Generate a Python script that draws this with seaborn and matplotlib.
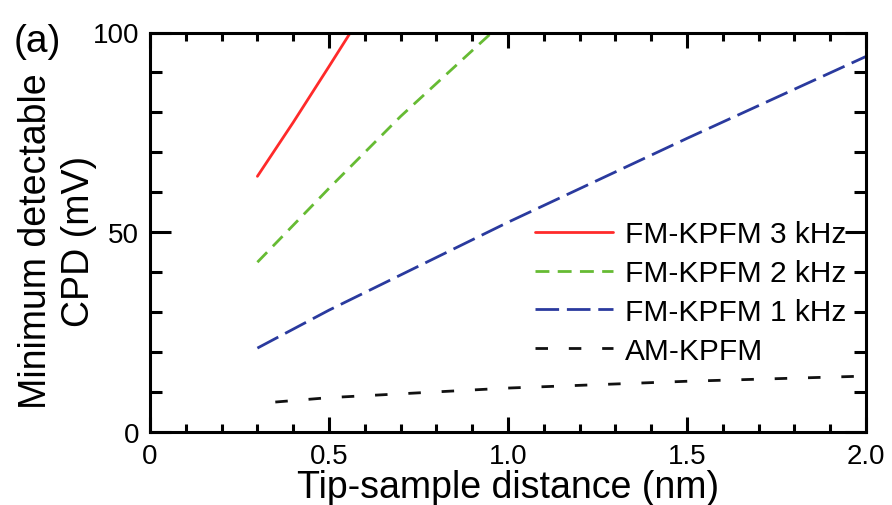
import numpy as np
import pandas as pd
import seaborn as sns
import matplotlib
matplotlib.use("Agg")
import matplotlib.pyplot as plt
from matplotlib.ticker import MultipleLocator

# Data
fm3_x = [0.30, 0.40, 0.50, 0.56]
fm3_y = [64.0, 77.5, 91.5, 100.0]
fm2_x = [0.30, 0.50, 0.70, 0.955]
fm2_y = [42.5, 61.0, 79.0, 100.0]
fm1_x = [0.30, 0.50, 1.00, 1.50, 2.00]
fm1_y = [21.0, 30.5, 52.5, 73.5, 94.0]
am_x = [0.35, 0.50, 1.00, 1.50, 2.00]
am_y = [7.5, 8.6, 11.0, 12.7, 14.0]

labels = ["FM-KPFM 3 kHz", "FM-KPFM 2 kHz", "FM-KPFM 1 kHz", "AM-KPFM"]
colors = ["#ff2a2a", "#66bb33", "#2a3a9e", "#111111"]
xtick_labels = ["0", "0.5", "1.0", "1.5", "2.0"]

sns.set_theme(style="white")
plt.rcParams['font.family'] = ['Liberation Sans', 'DejaVu Sans']
plt.rcParams['text.color'] = 'black'
plt.rcParams['axes.labelcolor'] = 'black'
plt.rcParams['xtick.color'] = 'black'
plt.rcParams['ytick.color'] = 'black'

fig = plt.figure(figsize=(8.92, 5.06), dpi=100)
ax = fig.add_axes([150/892, 1-433/506, 716/892, 399.5/506])

lw = 2.0
series = [(fm3_x, fm3_y), (fm2_x, fm2_y), (fm1_x, fm1_y), (am_x, am_y)]
dash_styles = [None, (0, (5.0, 3.0)), (0, (8.5, 2.8)), (0, (4.5, 7.5))]
for (xs, ys), lab, col, ds in zip(series, labels, colors, dash_styles):
    df = pd.DataFrame({"x": xs, "y": ys})
    kw = {} if ds is None else {"linestyle": ds}
    sns.lineplot(data=df, x="x", y="y", ax=ax, color=col, lw=lw, label=lab, **kw)

ax.set_xlim(0, 2.0)
ax.set_ylim(0, 100)
ax.xaxis.set_major_locator(MultipleLocator(0.5))
ax.xaxis.set_minor_locator(MultipleLocator(0.1))
ax.yaxis.set_major_locator(MultipleLocator(50))
ax.yaxis.set_minor_locator(MultipleLocator(10))
ax.set_xticks([0, 0.5, 1.0, 1.5, 2.0])
ax.set_xticklabels(xtick_labels)
ax.tick_params(which="both", direction="in", top=True, right=True,
               bottom=True, left=True, width=2.2, colors="black",
               labelcolor="black", labelsize=20, pad=8)
ax.tick_params(axis="x", which="major", length=11)
ax.tick_params(axis="x", which="minor", length=6)
ax.tick_params(axis="y", which="major", length=15)
ax.tick_params(axis="y", which="minor", length=8.5)
for sp in ax.spines.values():
    sp.set_linewidth(2.2)
    sp.set_color("black")

ax.set_xlabel("Tip-sample distance (nm)", fontsize=27, labelpad=0, color="black")
ax.set_ylabel("Minimum detectable\nCPD (mV)", fontsize=27, linespacing=1.25,
              color="black")
ax.yaxis.set_label_coords((97 - 150) / 716, 0.48)

leg = ax.legend(loc="upper left", bbox_to_anchor=(0.5377, 0.530), frameon=False,
                fontsize=21.5, handlelength=2.6, handletextpad=0.4,
                labelspacing=0.36, borderaxespad=0, borderpad=0)
for t in leg.get_texts():
    t.set_color("black")

fig.text(37/892, 1-42/506, "(a)", fontsize=28, va="center", ha="center",
         color="black")

fig.savefig("out.png", dpi=100)
